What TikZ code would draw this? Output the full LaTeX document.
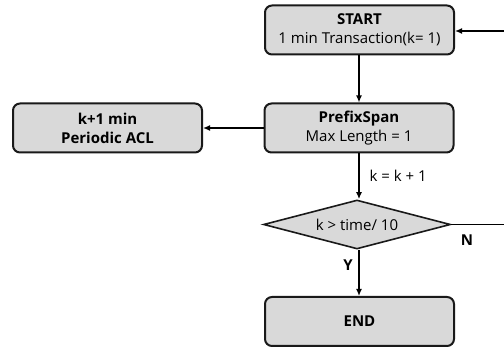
\documentclass[tikz,border=0pt]{standalone}
\usepackage{fontspec}
\setmainfont{Open Sans}
\usetikzlibrary{shapes.geometric,arrows.meta}
\definecolor{boxfill}{HTML}{D9D9D9}
\begin{document}
\begin{tikzpicture}[x=1pt,y=-1pt,
  txt/.style={font=\fontsize{15}{19}\selectfont},
  box/.style={txt,draw=black!90,line width=2pt,fill=boxfill,rounded corners=7pt,minimum width=189pt,minimum height=49pt,inner sep=0pt,align=center},
  dia/.style={txt,draw=black!90,line width=1.6pt,fill=boxfill,diamond,aspect=3.8,minimum width=187pt,minimum height=49pt,inner sep=0pt},
  conn/.style={line width=1.8pt,-{Latex[length=7pt,width=6pt]}}]
\useasboundingbox (0,0) rectangle (504,347);
\clip (0,0) rectangle (504,347);
\node[box] (start) at (359.5,30) {\textbf{START}\\1 min Transaction(k=\ 1)};
\node[box] (ps) at (359,128) {\textbf{PrefixSpan}\\Max Length = 1};
\node[box] (acl) at (107.5,128) {\textbf{k+1 min}\\\textbf{Periodic ACL}};
\node[dia] (cond) at (357,224.5) {k > time/ 10};
\node[box] (end) at (359.5,321.5) {\textbf{END}};
\coordinate (c1) at (512,224.5);
\coordinate (c2) at (512,31);
\draw[conn] (start.south -| ps.north) -- (ps.north);
\draw[conn] (ps.west) -- (acl.east);
\draw[conn] (ps.south) -- (ps.south |- cond.north);
\draw[conn] (cond.south -| ps.south) -- (end.north -| ps.south);
\draw[conn] (cond.east) -- (c1) -- (c2) -- (start.east |- c2);
\node[txt,anchor=west] (kk) at (366,176) {k = k + 1};
\node[txt,font=\fontsize{15}{17}\selectfont\bfseries] (n) at (467,240) {N};
\node[txt,font=\fontsize{15}{17}\selectfont\bfseries] (y) at (348,265) {Y};
\end{tikzpicture}
\end{document}
